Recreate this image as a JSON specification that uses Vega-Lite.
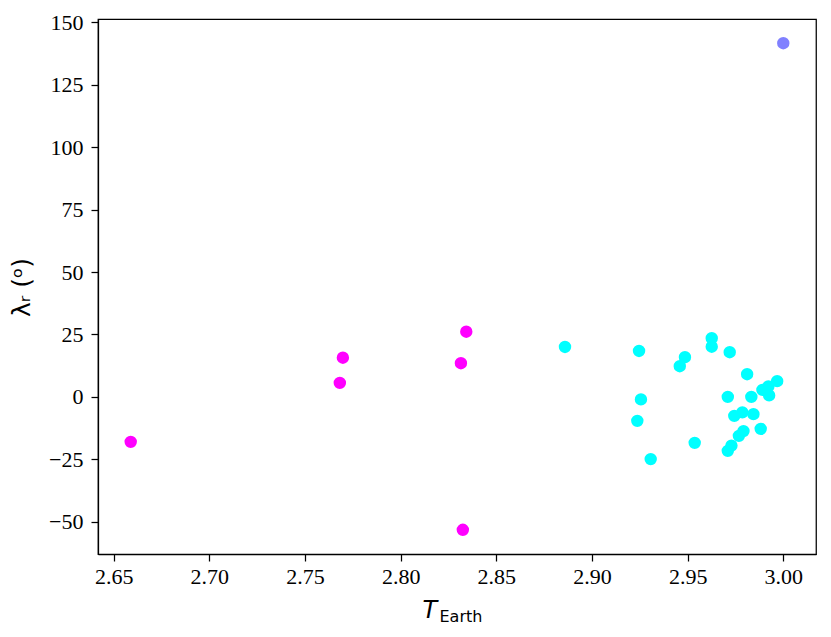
{
  "$schema": "https://vega.github.io/schema/vega-lite/v6.json",
  "width": 718,
  "height": 535,
  "autosize": {"type": "none"},
  "padding": {"left": 98, "top": 19, "right": 15, "bottom": 83},
  "background": "white",
  "config": {
    "view": {"stroke": "black", "strokeWidth": 1.25},
    "axis": {
      "grid": false,
      "domainColor": "black",
      "domainWidth": 1.25,
      "tickColor": "black",
      "tickWidth": 1.25,
      "tickSize": 7,
      "labelFont": "Liberation Serif",
      "labelFontSize": 22,
      "labelColor": "black",
      "titleColor": "black",
      "titleFontWeight": "normal"
    }
  },
  "data": {
    "values": [
      {"t": 2.6589, "lam": -18.0, "g": "m"},
      {"t": 2.7682, "lam": 5.6, "g": "m"},
      {"t": 2.7698, "lam": 15.7, "g": "m"},
      {"t": 2.8315, "lam": 13.5, "g": "m"},
      {"t": 2.8343, "lam": 26.1, "g": "m"},
      {"t": 2.8325, "lam": -53.2, "g": "m"},
      {"t": 2.8859, "lam": 20.0, "g": "c"},
      {"t": 2.9246, "lam": 18.4, "g": "c"},
      {"t": 2.9256, "lam": -1.0, "g": "c"},
      {"t": 2.9237, "lam": -9.6, "g": "c"},
      {"t": 2.9307, "lam": -24.9, "g": "c"},
      {"t": 2.9486, "lam": 15.9, "g": "c"},
      {"t": 2.9459, "lam": 12.3, "g": "c"},
      {"t": 2.9537, "lam": -18.4, "g": "c"},
      {"t": 2.9626, "lam": 23.5, "g": "c"},
      {"t": 2.9626, "lam": 20.1, "g": "c"},
      {"t": 2.9720, "lam": 17.9, "g": "c"},
      {"t": 2.9811, "lam": 9.1, "g": "c"},
      {"t": 2.9710, "lam": 0.0, "g": "c"},
      {"t": 2.9833, "lam": 0.0, "g": "c"},
      {"t": 2.9968, "lam": 6.3, "g": "c"},
      {"t": 2.9922, "lam": 4.2, "g": "c"},
      {"t": 2.9891, "lam": 2.8, "g": "c"},
      {"t": 2.9926, "lam": 0.6, "g": "c"},
      {"t": 2.9744, "lam": -7.6, "g": "c"},
      {"t": 2.9786, "lam": -6.2, "g": "c"},
      {"t": 2.9844, "lam": -6.9, "g": "c"},
      {"t": 2.9882, "lam": -12.8, "g": "c"},
      {"t": 2.9792, "lam": -13.7, "g": "c"},
      {"t": 2.9768, "lam": -15.6, "g": "c"},
      {"t": 2.9729, "lam": -19.5, "g": "c"},
      {"t": 2.9710, "lam": -21.6, "g": "c"},
      {"t": 3.0000, "lam": 141.6, "g": "b"}
    ]
  },
  "layer": [
    {
      "mark": {"type": "circle", "size": 154, "opacity": 1},
      "encoding": {
        "x": {
          "field": "t",
          "type": "quantitative",
          "scale": {"domain": [2.6418, 3.0171], "nice": false, "zero": false},
          "axis": {
            "orient": "bottom",
            "values": [2.65, 2.7, 2.75, 2.8, 2.85, 2.9, 2.95, 3.0],
            "format": ".2f",
            "labelPadding": 5,
            "title": "T",
            "titleFont": "DejaVu Sans",
            "titleFontStyle": "italic",
            "titleFontSize": 24,
            "titleAlign": "left",
            "titleBaseline": "alphabetic",
            "titleX": 324,
            "titleY": 63
          }
        },
        "y": {
          "field": "lam",
          "type": "quantitative",
          "scale": {"domain": [-62.9, 151.3], "nice": false, "zero": false},
          "axis": {
            "values": [-50, -25, 0, 25, 50, 75, 100, 125, 150],
            "labelPadding": 8,
            "title": "λᵣ (ᵒ)",
            "titleFont": "DejaVu Sans",
            "titleFontSize": 25,
            "titleAngle": 270,
            "titleAlign": "center",
            "titleBaseline": "alphabetic",
            "titleX": -69,
            "titleY": 268
          }
        },
        "color": {
          "field": "g",
          "type": "nominal",
          "scale": {"domain": ["m", "c", "b"], "range": ["#ff00ff", "#00ffff", "#8080ff"]},
          "legend": null
        }
      }
    },
    {
      "mark": {"type": "point", "opacity": 0},
      "encoding": {
        "x": {
          "field": "t",
          "type": "quantitative",
          "axis": {
            "orient": "top",
            "labels": false,
            "ticks": false,
            "domain": false,
            "title": "Earth",
            "titleFont": "DejaVu Sans",
            "titleFontSize": 16,
            "titleAlign": "left",
            "titleBaseline": "alphabetic",
            "titleX": 341,
            "titleY": 602
          }
        },
        "y": {"field": "lam", "type": "quantitative"}
      }
    }
  ],
  "resolve": {"axis": {"x": "independent"}}
}
